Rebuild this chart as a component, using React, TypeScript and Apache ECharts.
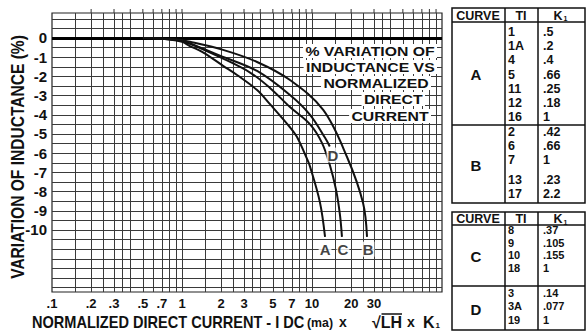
import React, { useEffect, useRef } from 'react';
import * as echarts from 'echarts';

const FONT = "'Liberation Sans', Arial, sans-serif";
const INK = '#111';

// Axis tick labels
const X_TICK_LABELS = [0.1, 0.2, 0.3, 0.5, 0.7, 1, 2, 3, 5, 7, 10, 20, 30];
const Y_TICK_LABELS = [0, -1, -2, -3, -4, -5, -6, -7, -8, -9, -10];

// Graph-paper rulings
const X_GRID_LINES = [
  0.15, 0.2, 0.25, 0.3, 0.35, 0.4, 0.5, 0.6, 0.7, 0.8, 0.9, 1,
  1.5, 2, 2.5, 3, 3.5, 4, 5, 6, 7, 8, 9, 10,
  15, 20, 25, 30, 35, 40, 50, 60, 70, 80, 90,
];
const Y_GRID_LINES = [
  1, 0.5, -0.5, -1, -1.5, -2, -2.5, -3, -3.5, -4, -4.5, -5, -5.5, -6, -6.5,
  -7, -7.5, -8, -8.5, -9, -9.5, -10, -10.5, -11, -11.5, -12, -12.5, -13,
];
const TOP_TICKS = [
  0.2, 0.3, 0.4, 0.5, 0.6, 0.7, 0.8, 0.9, 1,
  2, 3, 4, 5, 6, 7, 8, 9, 10,
  20, 30, 40, 50, 60, 70, 80, 90,
];

// Curves: [normalized current, % variation]
const CURVE_A = [
  [0.5, 0], [0.8, -0.08], [1.0, -0.2], [1.15, -0.42], [1.45, -0.75], [2.07, -1.45],
  [2.65, -1.93], [3.78, -2.71], [4.75, -3.45], [6.77, -4.65], [7.67, -5.16],
  [9.16, -6.3], [9.66, -6.7], [11.5, -8.55], [12.6, -10.36],
];
const CURVE_C = [
  [0.5, 0], [0.9, -0.1], [1.15, -0.3], [1.96, -1.0], [3.34, -1.8], [4.75, -2.6],
  [6.77, -3.6], [9.66, -4.5], [11.9, -5.45], [13.7, -6.6], [15.3, -7.9],
  [16.4, -9.2], [17.0, -10.36],
];
const CURVE_D = [
  [0.5, 0], [0.9, -0.1], [1.15, -0.28], [1.96, -0.92], [3.78, -1.72], [6.77, -2.97],
  [9.66, -4.0], [12.6, -5.2], [13.7, -5.65],
];
const CURVE_B = [
  [0.5, 0], [0.9, -0.08], [1.15, -0.2], [2.07, -0.62], [3.78, -1.25], [6.77, -2.19],
  [12.2, -3.75], [18.6, -6.2], [24.7, -8.59], [26.5, -10.36],
];
const CURVE_TAGS = [
  [12.6, -11.0, 'A'],
  [17.3, -11.0, 'C'],
  [27.0, -11.0, 'B'],
  [14.5, -6.1, 'D'],
];

const ANNOTATION_LINES = ['% VARIATION OF', 'INDUCTANCE VS', 'NORMALIZED', 'DIRECT', 'CURRENT'];

// Tables
const TABLE_HEAD = ['CURVE', 'TI', 'K', '1'];
const TABLE_1 = [
  { curve: 'A', ti: ['1', '1A', '4', '5', '11', '12', '16'], k: ['.5', '.2', '.4', '.66', '.25', '.18', '1'] },
  { curve: 'B', ti: ['2', '6', '7', '13', '17'], k: ['.42', '.66', '1', '.23', '2.2'] },
];
const TABLE_2 = [
  { curve: 'C', ti: ['8', '9', '10', '18'], k: ['.37', '.105', '.155', '1'] },
  { curve: 'D', ti: ['3', '3A', '19'], k: ['.14', '.077', '1'] },
];

const Y_MIN = -13.23;
const Y_MAX = 1.3;

function fmtX(v: number) {
  if (v < 1) return '.' + Math.round(v * 10);
  return String(Math.round(v));
}

function txt(text: string, x: number, y: number, size: number, align = 'left', extra: any = {}) {
  return {
    type: 'text', x, y, z: 100,
    style: {
      text, fill: INK, fontSize: size, fontWeight: 'bold', fontFamily: FONT,
      align, verticalAlign: 'middle', ...(extra.style || {}),
    },
    ...(extra.el || {}),
  };
}

function line(x1: number, y1: number, x2: number, y2: number, w = 1.5) {
  return { type: 'line', z: 100, shape: { x1, y1, x2, y2 }, style: { stroke: INK, lineWidth: w } };
}

function buildTable(rows: any[], top: number, headBottom: number, rowBottoms: number[], rowYs: number[][], size: number) {
  const c0 = 452, c1 = 505, c2 = 538, c3 = 585;
  const els: any[] = [];
  const bottom = rowBottoms[rowBottoms.length - 1];
  els.push({ type: 'rect', z: 100, shape: { x: c0, y: top, width: c3 - c0, height: bottom - top }, style: { fill: 'none', stroke: INK, lineWidth: 1.5 } });
  els.push(line(c0, headBottom, c3, headBottom));
  els.push(line(c1, top, c1, bottom));
  els.push(line(c2, top, c2, bottom));
  rowBottoms.slice(0, -1).forEach((b) => els.push(line(c0, b, c3, b)));
  const hy = (top + headBottom) / 2 + 0.5;
  els.push(txt(TABLE_HEAD[0], 478, hy, 12.5, 'center'));
  els.push(txt(TABLE_HEAD[1], 521, hy, 12.5, 'center'));
  els.push(txt(TABLE_HEAD[2], 558, hy, 12.5, 'center'));
  els.push(txt(TABLE_HEAD[3], 563.5, hy + 3, 7, 'left'));
  let prevBottom = headBottom;
  rows.forEach((r, ri) => {
    const rb = rowBottoms[ri];
    els.push(txt(r.curve, 476, (prevBottom + rb) / 2 + 1, 15, 'center'));
    r.ti.forEach((t: string, i: number) => els.push(txt(t, 508, rowYs[ri][i], size, 'left')));
    r.k.forEach((t: string, i: number) => els.push(txt(t, 543, rowYs[ri][i], size, 'left')));
    prevBottom = rb;
  });
  return els;
}

export default function App() {
  const ref = useRef<HTMLDivElement>(null);
  useEffect(() => {
    if (!ref.current) return;
    const chart = echarts.init(ref.current, null, { renderer: 'svg', width: 586, height: 331 });

    const gridLineStyle = { color: '#3a3a3a', width: 1, type: 'solid' };
    const markData: any[] = [
      ...X_GRID_LINES.map((v) => ({ xAxis: v })),
      ...Y_GRID_LINES.map((v) => ({ yAxis: v })),
      { yAxis: 0, lineStyle: { width: 3, color: '#000' } },
    ];

    const curveSeries = (name: string, data: number[][]) => ({
      name, type: 'line', data, smooth: 0.35, symbol: 'none', z: 5,
      lineStyle: { color: '#111', width: 2 },
    });

    const annRights = [437, 437, 431, 425, 431];
    const annYs = [51, 67, 83, 99, 116];

    const graphic: any[] = [
      {
        type: 'text', x: 18, y: 157, rotation: Math.PI / 2, scaleX: 0.865, z: 100,
        style: { text: 'VARIATION OF INDUCTANCE (%)', fill: INK, fontSize: 18, fontWeight: 'bold', fontFamily: FONT, align: 'center', verticalAlign: 'middle' },
      },
      txt('NORMALIZED DIRECT CURRENT - I DC', 32, 322, 16, 'left', { el: { scaleX: 0.91 } }),
      txt('(ma)', 307, 323, 13, 'left', { el: { scaleX: 0.95 } }),
      txt('x', 343, 322, 14, 'center'),
      txt('\u221ALH', 372, 322, 16, 'left'),
      line(381.5, 314, 402, 314, 1.5),
      txt('x', 411, 322, 14, 'center'),
      txt('K', 423, 322, 16, 'left'),
      txt('1', 435.5, 325, 8, 'left'),
      ...ANNOTATION_LINES.map((t, i) => txt(t, annRights[i], annYs[i], 13.5, 'right', { style: { backgroundColor: '#fff', padding: [0, 2, 0, 2] }, el: { scaleX: 1.17 } })),
      ...buildTable(TABLE_1, 8, 22, [125, 203], [
        [32, 46, 60, 75, 89, 103, 117],
        [132, 146, 160, 180, 194],
      ], 12.5),
      ...buildTable(TABLE_2, 212, 225, [286, 330], [
        [230, 242.5, 255, 267.5],
        [293, 306, 320],
      ], 11),
    ];

    const option: any = {
      animation: false,
      backgroundColor: '#fff',
      grid: {
        left: 52, top: 13, width: 390, height: 279, show: true,
        borderColor: '#222', borderWidth: 1.2, backgroundColor: 'transparent',
        containLabel: false, outerBoundsMode: 'none',
      },
      xAxis: {
        type: 'log', logBase: 10, min: 0.1, max: 100,
        axisLine: { show: false }, axisTick: { show: false },
        splitLine: { show: false }, minorSplitLine: { show: false },
        axisLabel: {
          customValues: X_TICK_LABELS, formatter: fmtX, color: INK,
          fontWeight: 'bold', fontSize: 13, fontFamily: FONT, margin: 5,
        },
      },
      yAxis: {
        type: 'value', min: Y_MIN, max: Y_MAX,
        axisLine: { show: false }, axisTick: { show: false },
        splitLine: { show: false },
        axisLabel: {
          customValues: Y_TICK_LABELS, formatter: (v: number) => String(v), color: INK,
          fontWeight: 'bold', fontSize: 15, fontFamily: FONT, margin: 5,
        },
      },
      series: [
        {
          name: 'grid', type: 'line', data: [[0.1, 0]], symbol: 'none', z: 1, silent: true,
          lineStyle: { width: 0 },
          markLine: {
            silent: true, symbol: ['none', 'none'], label: { show: false },
            lineStyle: gridLineStyle, data: markData, animation: false,
          },
        },
        {
          name: 'ticks', type: 'custom', z: 2, silent: true,
          data: TOP_TICKS.map((v) => [v, Y_MAX]),
          renderItem: (_p: any, api: any) => {
            const p = api.coord([api.value(0), api.value(1)]);
            return { type: 'line', shape: { x1: p[0], y1: p[1], x2: p[0], y2: p[1] - 4 }, style: { stroke: '#333', lineWidth: 1 } };
          },
        },
        curveSeries('A', CURVE_A),
        curveSeries('C', CURVE_C),
        curveSeries('D', CURVE_D),
        curveSeries('B', CURVE_B),
        {
          name: 'tags', type: 'scatter', z: 6, symbolSize: 1, silent: true,
          itemStyle: { color: 'transparent' },
          data: CURVE_TAGS,
          label: {
            show: true, position: 'inside', formatter: (p: any) => p.value[2],
            color: INK, fontWeight: 'bold', fontSize: 15, fontFamily: FONT,
            backgroundColor: '#fff', padding: [0, 1],
          },
        },
      ],
      graphic,
    };
    chart.setOption(option);
    return () => chart.dispose();
  }, []);
  return <div ref={ref} style={{ position: 'fixed', left: 0, top: 0, width: 586, height: 331, background: '#fff' }} />;
}
